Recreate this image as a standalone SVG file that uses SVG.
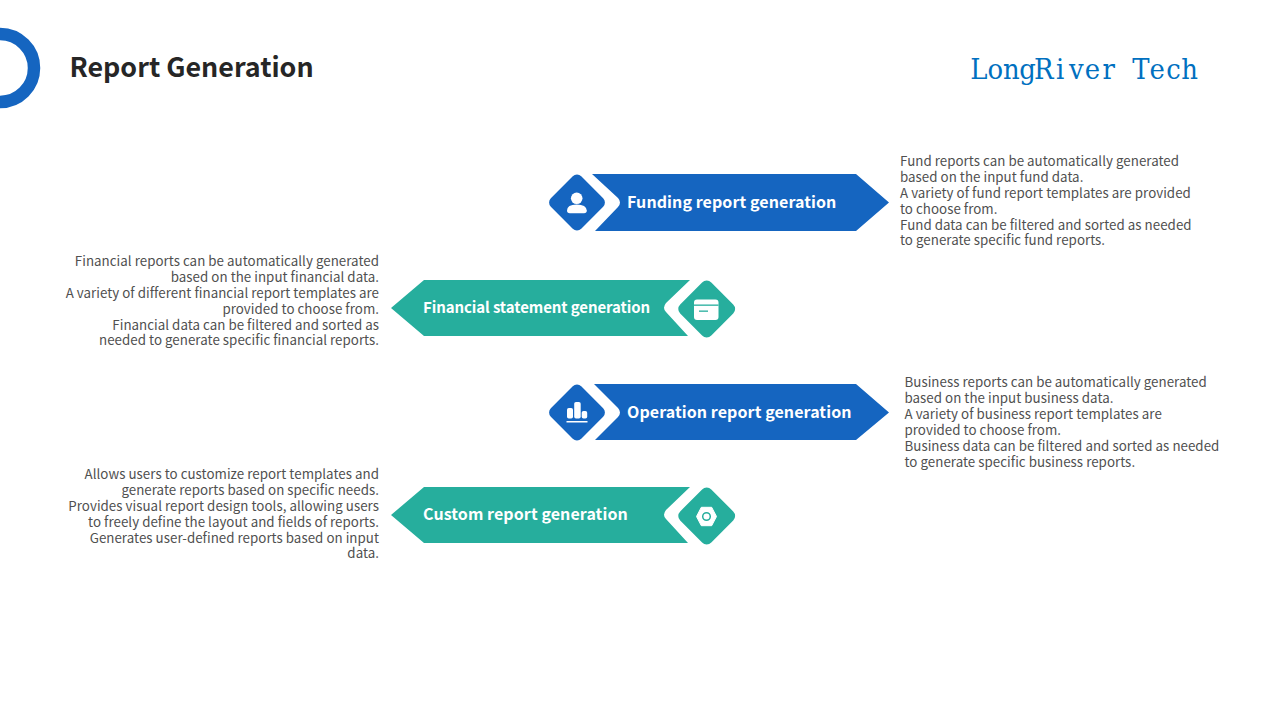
<svg xmlns="http://www.w3.org/2000/svg" width="1280" height="720" viewBox="0 0 1280 720">
<style>
.t{font-family:"Noto Sans CJK SC","Noto Sans",sans-serif}
.b{font-size:13.33px;fill:#505050;letter-spacing:.03px}
.l{font-size:16px;font-weight:700;fill:#fff;letter-spacing:.08px}
.blue{fill:#1565C0}.teal{fill:#26AE9D}
.ic{fill:#fff}
</style>
<rect width="1280" height="720" fill="#fff"/>
<g id="header">
<circle cx="0" cy="68" r="34" fill="none" stroke="#1565C0" stroke-width="12.5"/>
<text class="t" x="69.500" y="76.800" font-size="26.850" font-weight="700" fill="#262626">Report Generation</text>
<text x="970.2 987.4 1003 1019.3 1033.9 1055.9 1069 1084.8 1102.5 1117 1132.3 1149.6 1166.2 1181.3" y="78.500" font-family="'DejaVu Serif Condensed','DejaVu Serif',serif" font-stretch="condensed" font-size="28.800" fill="#0070C0">LongRiver Tech</text>
</g>
<g id="node-funding">
<path class="blue" d="M592 174H856L889 202.500 856 231H595L618 207Q622 202.500 618 198Z"/>
<rect class="blue" x="555.500" y="181" width="43" height="43" rx="6" transform="rotate(45 577 202.500)"/>
<circle class="ic" cx="576.700" cy="198.300" r="5.800"/>
<path class="ic" d="M567 210.500Q567 204.500 576.700 204.500T586.800 210.500Q586.800 213.300 584 213.300H569.800Q567 213.300 567 210.500Z"/>
<text class="t l" x="627" y="208">Funding report generation</text>
<g transform="translate(0 .4)"><text class="t b"><tspan x="900" y="166">Fund reports can be automatically generated</tspan><tspan x="900" y="182">based on the input fund data.</tspan><tspan x="900" y="198">A variety of fund report templates are provided</tspan><tspan x="900" y="214">to choose from.</tspan><tspan x="900" y="230">Fund data can be filtered and sorted as needed</tspan><tspan x="900" y="245">to generate specific fund reports.</tspan></text></g>
</g>
<g id="node-financial">
<path class="teal" d="M424 280H690L666 303Q662 308 666 312L688 336H424L391 308Z"/>
<rect class="teal" x="684.700" y="287" width="44" height="44" rx="6.500" transform="rotate(45 706.700 309)"/>
<rect class="ic" x="694" y="299.500" width="24.500" height="20.500" rx="3"/>
<rect class="teal" x="694" y="304.500" width="24.500" height="1.300"/>
<rect class="teal" x="699" y="310.500" width="9" height="1.300"/>
<text class="t l" style="font-size:15px;letter-spacing:-.1px" x="423" y="313">Financial statement generation</text>
<g transform="translate(0 .4)"><text class="t b" text-anchor="end"><tspan x="379" y="266">Financial reports can be automatically generated</tspan><tspan x="379" y="282">based on the input financial data.</tspan><tspan x="379" y="298">A variety of different financial report templates are</tspan><tspan x="379" y="314">provided to choose from.</tspan><tspan x="379" y="330">Financial data can be filtered and sorted as</tspan><tspan x="379" y="345">needed to generate specific financial reports.</tspan></text></g>
</g>
<g id="node-operation">
<path class="blue" d="M594 384H856L889 412.500 856 440H595L618 417Q622 412.500 618 408Z"/>
<rect class="blue" x="555.500" y="391" width="43" height="43" rx="6" transform="rotate(45 577 412.500)"/>
<rect class="ic" x="567" y="408" width="6" height="10.500" rx="1.800"/><rect class="ic" x="574.200" y="402" width="6.500" height="16.500" rx="1.800"/><rect class="ic" x="581.700" y="411" width="5.500" height="7.500" rx="1.800"/>
<rect class="ic" x="566.500" y="421" width="21" height="1.500"/>
<text class="t l" x="627" y="418">Operation report generation</text>
<g transform="translate(0 .4)"><text class="t b"><tspan x="904.500" y="387">Business reports can be automatically generated</tspan><tspan x="904.500" y="403">based on the input business data.</tspan><tspan x="904.500" y="419">A variety of business report templates are</tspan><tspan x="904.500" y="435">provided to choose from.</tspan><tspan x="904.500" y="451">Business data can be filtered and sorted as needed</tspan><tspan x="904.500" y="467">to generate specific business reports.</tspan></text></g>
</g>
<g id="node-custom">
<path class="teal" d="M424 487H690L666 510Q662 515 666 519L688 543H424L391 515Z"/>
<rect class="teal" x="684.700" y="494" width="44" height="44" rx="6.500" transform="rotate(45 706.700 516)"/>
<path class="ic" d="M701.300 507.300H711.700L716.500 516.500 711.700 525.700H701.300L696.500 516.500Z" stroke="#fff" stroke-width="1" stroke-linejoin="round"/>
<circle cx="706.500" cy="516.500" r="3.800" fill="none" stroke="#26AE9D" stroke-width="1.500"/>
<text class="t l" x="423" y="520">Custom report generation</text>
<g transform="translate(0 .4)"><text class="t b" text-anchor="end"><tspan x="379" y="479">Allows users to customize report templates and</tspan><tspan x="379" y="495">generate reports based on specific needs.</tspan><tspan x="379" y="511">Provides visual report design tools, allowing users</tspan><tspan x="379" y="527">to freely define the layout and fields of reports.</tspan><tspan x="379" y="543">Generates user-defined reports based on input</tspan><tspan x="379" y="558">data.</tspan></text></g>
</g>
</svg>
